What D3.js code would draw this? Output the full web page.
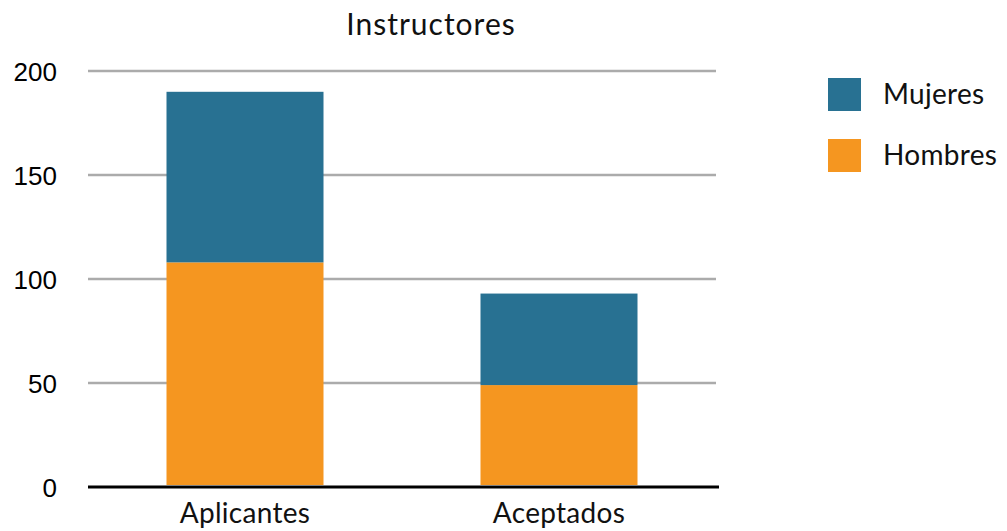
<!DOCTYPE html>
<html>
<head>
<meta charset="utf-8">
<script src="https://cdn.jsdelivr.net/npm/d3@7"></script>
<style>
  body { margin: 0; background: #fff; }
  svg { display: block; }
</style>
</head>
<body>
<svg id="chart" width="1007" height="531"></svg>
<script>
const categories = ["Aplicantes", "Aceptados"];
const seriesNames = ["Hombres", "Mujeres"];
const hombres = [108, 49];
const mujeres = [82, 44];
const yTicks = [0, 50, 100, 150, 200];
const legendOrder = ["Mujeres", "Hombres"];
const colors = { Hombres: "#F59620", Mujeres: "#287192" };

const svg = d3.select("#chart");
const labelFont = "Lato, 'Open Sans', sans-serif";
const numFont = "'Liberation Sans', Arial, sans-serif";

const x = d3.scaleBand().domain(categories).range([88, 716]).paddingInner(0.5).paddingOuter(0.25);
const y = d3.scaleLinear().domain([0, 200]).range([487, 71]);

const rows = categories.map((c, i) => ({ cat: c, Hombres: hombres[i], Mujeres: mujeres[i] }));
const stacked = d3.stack().keys(seriesNames)(rows);

// gridlines
svg.append("g").selectAll("line").data(yTicks.filter(t => t > 0)).join("line")
  .attr("x1", 88).attr("x2", 716)
  .attr("y1", d => y(d)).attr("y2", d => y(d))
  .attr("stroke", "#ababab").attr("stroke-width", 2.5);

// bars
svg.append("g").selectAll("g").data(stacked).join("g")
  .attr("fill", d => colors[d.key])
  .selectAll("rect").data(d => d).join("rect")
  .attr("x", d => x(d.data.cat))
  .attr("width", x.bandwidth())
  .attr("y", d => y(d[1]))
  .attr("height", d => y(d[0]) - y(d[1]) - (d[0] === 0 ? 2 : 0));

// baseline
svg.append("line").attr("x1", 88).attr("x2", 719)
  .attr("y1", y(0)).attr("y2", y(0))
  .attr("stroke", "#000").attr("stroke-width", 3);

// y axis labels
const yAxis = d3.axisLeft(y).tickValues(yTicks).tickSize(0).tickPadding(0);
const gy = svg.append("g").attr("transform", "translate(57,0)").call(yAxis);
gy.select(".domain").remove();
gy.selectAll("text").attr("font-family", numFont).attr("font-size", 26).attr("fill", "#000")
  .attr("dy", "0.35em");

// x axis labels
const xAxis = d3.axisBottom(x).tickSize(0).tickPadding(0);
const gx = svg.append("g").attr("transform", "translate(0,523)").call(xAxis);
gx.select(".domain").remove();
gx.selectAll("text").attr("font-family", labelFont).attr("font-size", 28).attr("fill", "#111")
  .attr("y", 0).attr("dy", "0").attr("letter-spacing", 0.3);

// title
svg.append("text").attr("x", 431).attr("y", 35).attr("text-anchor", "middle")
  .attr("font-family", labelFont).attr("font-size", 30).attr("letter-spacing", 1)
  .attr("fill", "#111").text("Instructores");

// legend
const lg = svg.append("g").selectAll("g").data(legendOrder).join("g")
  .attr("transform", (d, i) => `translate(828,${78 + i * 61})`);
lg.append("rect").attr("width", 33).attr("height", 33).attr("fill", d => colors[d]);
lg.append("text").attr("x", 55).attr("y", 16.5).attr("dy", "0.35em")
  .attr("font-family", labelFont).attr("font-size", 28).attr("letter-spacing", 0.3)
  .attr("fill", "#111").text(d => d);
</script>
</body>
</html>
